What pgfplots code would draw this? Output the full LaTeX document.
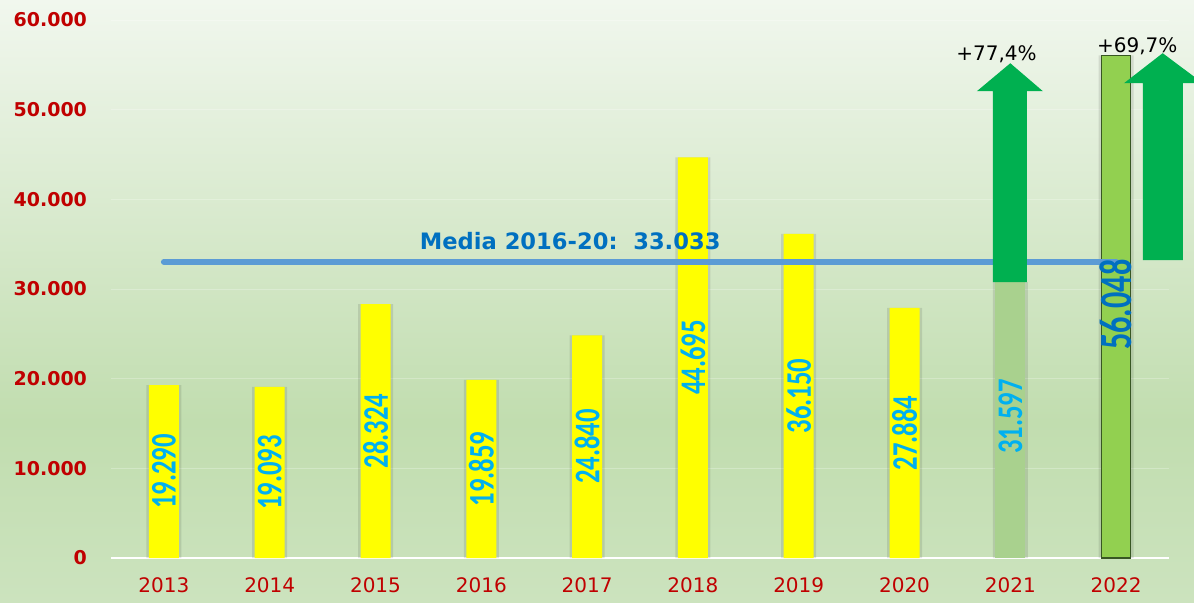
\documentclass[border=0pt]{standalone}
\usepackage{pgfplots}
\pgfplotsset{compat=1.18}
\usepackage{pgfplotstable}
\usepackage{fontspec}
\setmainfont{DejaVu Sans}
\newfontfamily\carl{Carlito}
\definecolor{tred}{RGB}{192,0,0}
\definecolor{lblc}{RGB}{0,176,240}
\definecolor{dblue}{RGB}{0,112,192}
\definecolor{mline}{RGB}{91,155,213}
\definecolor{ybar}{RGB}{255,255,0}
\definecolor{g21}{RGB}{169,209,142}
\definecolor{g22}{RGB}{146,208,80}
\definecolor{dkg}{RGB}{56,87,35}
\definecolor{agreen}{RGB}{0,176,80}
\definecolor{bgtop}{RGB}{241,247,238}
\definecolor{bgdeep}{RGB}{193,221,175}
\definecolor{bgbot}{RGB}{204,227,190}

\pgfplotstableread{
x v lab
0 19290 19.290
1 19093 19.093
2 28324 28.324
3 19859 19.859
4 24840 24.840
5 44695 44.695
6 36150 36.150
7 27884 27.884
8 31597 31.597
}\tbl
\pgfplotstableread{
x v lab
9 56048 56.048
}\tblb

\begin{document}
\begin{tikzpicture}
\pgfdeclareverticalshading{bgshade}{100bp}{color(0bp)=(bgbot); color(25bp)=(bgbot); color(40bp)=(bgdeep); color(75bp)=(bgtop); color(100bp)=(bgtop)}
\shade[shading=bgshade] (-55.5pt,-22pt) rectangle (541.5pt,279pt);
\begin{axis}[
  at={(0,0)}, anchor=south west,
  scale only axis, width=529pt, height=269pt,
  xmin=-0.5, xmax=9.5, ymin=0, ymax=60000,
  clip=false,
  axis lines*=left,
  y axis line style={draw=none},
  x axis line style={draw=white, line width=0.7pt, -},
  major tick length=0pt,
  xtick={0,...,9},
  xticklabels={2013,2014,2015,2016,2017,2018,2019,2020,2021,2022},
  ytick={0,10000,20000,30000,40000,50000,60000},
  scaled y ticks=false,
  /pgf/number format/1000 sep={.},
  /pgf/number format/assume math mode=true,
  yticklabel style={font=\bfseries\fontsize{9.5}{11}\selectfont, text=tred, anchor=east, xshift=-8.5pt},
  xticklabel style={font=\fontsize{10}{12}\selectfont, text=tred, yshift=-6.5pt},
  ymajorgrids,
  grid style={white, opacity=0.25, line width=0.5pt},
]
% soft shadows behind the bars
\addplot[ybar, bar width=17.5pt, bar shift=0pt, fill=black, fill opacity=0.10, draw=none] coordinates {(0,19290) (1,19093) (2,28324) (3,19859) (4,24840) (5,44695) (6,36150) (7,27884) (8,30770) (9,56048)};
\addplot[ybar, bar width=15pt, bar shift=0pt, fill=ybar, draw=none] coordinates {(0,19290) (1,19093) (2,28324) (3,19859) (4,24840) (5,44695) (6,36150) (7,27884)};
\addplot[ybar, bar width=15pt, bar shift=0pt, fill=g21, draw=none] coordinates {(8,31597)};
\addplot[ybar, bar width=14.5pt, bar shift=0pt, fill=g22, draw=dkg, line width=0.8pt] coordinates {(9,56048)};

\addplot[draw=none, mark=none, nodes near coords={\scalebox{0.74}[1]{\pgfplotspointmeta}}, point meta=explicit symbolic,
  every node near coord/.append style={rotate=90, anchor=center, text=lblc, font=\carl\bfseries\fontsize{18}{18}\selectfont, inner sep=0pt}]
  table[x=x, y expr=\thisrow{v}/2, meta=lab] {\tbl};

\addplot[mline, line width=3pt, line cap=round] coordinates {(0,33033) (9,33033)};

\addplot[draw=none, mark=none, nodes near coords={\scalebox{0.7}[1]{\pgfplotspointmeta}}, point meta=explicit symbolic,
  every node near coord/.append style={rotate=90, anchor=center, text=dblue, font=\carl\bfseries\fontsize{23}{23}\selectfont, inner sep=0pt, xshift=1pt}]
  table[x=x, y expr=\thisrow{v}/2, meta=lab] {\tblb};

\addplot[fill=agreen, draw=none] coordinates {(7.835,30770) (8.157,30770) (8.157,52060) (8.308,52060) (8.0,55180) (7.684,52060) (7.835,52060)};
\addplot[fill=agreen, draw=none] coordinates {(9.253,33220) (9.631,33220) (9.631,52950) (9.82,52950) (9.44,56300) (9.074,52950) (9.253,52950)};

\node[anchor=base, text=dblue, font=\bfseries\fontsize{11.3}{13}\selectfont] at (axis cs:3.84,34450) {Media 2016-20:\ \ 33.033};
\node[anchor=base, font=\fontsize{10}{12}\selectfont] at (axis cs:7.87,55500) {+77,4\%};
\node[anchor=base, font=\fontsize{10}{12}\selectfont] at (axis cs:9.2,56400) {+69,7\%};
\end{axis}
\pgfresetboundingbox
\path (-55.5pt,-22pt) rectangle (541.5pt,279pt);
\end{tikzpicture}
\end{document}
